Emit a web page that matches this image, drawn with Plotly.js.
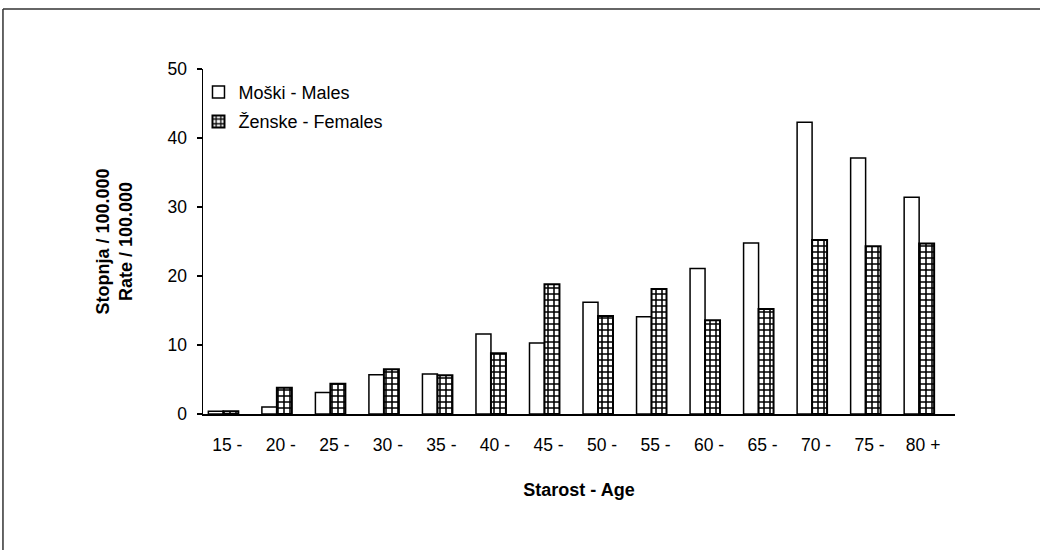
<!DOCTYPE html>
<html>
<head>
<meta charset="utf-8">
<script src="https://cdn.plot.ly/plotly-3.0.1.min.js"></script>
<style>
  html, body { margin: 0; padding: 0; background: #ffffff; }
  #chart { width: 1040px; height: 550px; }
</style>
</head>
<body>
<div id="chart"></div>
<script>
const ageGroups = ["15 -", "20 -", "25 -", "30 -", "35 -", "40 -", "45 -", "50 -", "55 -", "60 -", "65 -", "70 -", "75 -", "80 +"];
const males = [0.4, 1.0, 3.1, 5.7, 5.8, 11.6, 10.3, 16.2, 14.1, 21.1, 24.8, 42.3, 37.1, 31.4];
const females = [0.4, 3.8, 4.4, 6.5, 5.6, 8.8, 18.8, 14.2, 18.1, 13.6, 15.2, 25.2, 24.3, 24.7];
const seriesNames = ["Moški - Males", "Ženske - Females"];
const yTicks = [0, 10, 20, 30, 40, 50];

const FONT = "Liberation Sans, Arial, sans-serif";

const traces = [
  {
    type: "bar",
    name: seriesNames[0],
    x: ageGroups,
    y: males,
    legendgroup: "m",
    marker: { color: "#ffffff", line: { color: "#000000", width: 1.5 } },
    hoverinfo: "x+y+name"
  },
  {
    type: "bar",
    name: seriesNames[1],
    x: ageGroups,
    y: females,
    legendgroup: "f",
    marker: {
      color: "#ffffff",
      line: { color: "#000000", width: 2 },
      pattern: { shape: "+", size: 6, solidity: 0.45, fgcolor: "#000000", bgcolor: "#ffffff" }
    },
    hoverinfo: "x+y+name"
  }
];

const layout = {
  width: 1040,
  height: 550,
  margin: { l: 203, r: 85, t: 69, b: 136 },
  paper_bgcolor: "#ffffff",
  plot_bgcolor: "#ffffff",
  font: { family: FONT, color: "#000000", size: 17 },
  barmode: "group",
  bargap: 0.44,
  bargroupgap: 0,
  showlegend: true,
  legend: {
    x: -0.006, y: 0.986, xanchor: "left", yanchor: "top",
    bgcolor: "rgba(0,0,0,0)",
    font: { family: FONT, size: 18, color: "#000000" },
    traceorder: "grouped",
    tracegroupgap: 3
  },
  xaxis: {
    type: "category",
    range: [-0.38, 13.67],
    showline: true, linecolor: "#000000", linewidth: 1.5,
    showgrid: false, zeroline: false,
    ticks: "",
    ticklabelstandoff: 14,
    ticklabelshift: 4,
    tickfont: { family: FONT, size: 17.5, color: "#000000" },
    title: { text: "<b>Starost - Age</b>", font: { family: FONT, size: 18, color: "#000000" }, standoff: 30 },
    fixedrange: true
  },
  yaxis: {
    range: [0, 50],
    tickvals: yTicks,
    ticktext: yTicks.map(String),
    showline: true, linecolor: "#000000", linewidth: 1.5,
    showgrid: false, zeroline: false,
    ticks: "outside", ticklen: 5, tickwidth: 1.5, tickcolor: "#000000",
    ticklabelstandoff: 6,
    tickfont: { family: FONT, size: 17.5, color: "#000000" },
    title: { text: "<b>Stopnja / 100.000<br>Rate / 100.000</b>", font: { family: FONT, size: 18, color: "#000000" }, standoff: 30 },
    fixedrange: true
  },
  shapes: [
    { type: "line", xref: "paper", yref: "paper", x0: -0.266, x1: 1.12, y0: 1.174, y1: 1.174, line: { color: "#333333", width: 1.5 } },
    { type: "line", xref: "paper", yref: "paper", x0: -0.266, x1: -0.266, y0: 1.174, y1: -0.4, line: { color: "#333333", width: 1.5 } }
  ]
};

Plotly.newPlot("chart", traces, layout, { displayModeBar: false, staticPlot: true });
</script>
</body>
</html>
